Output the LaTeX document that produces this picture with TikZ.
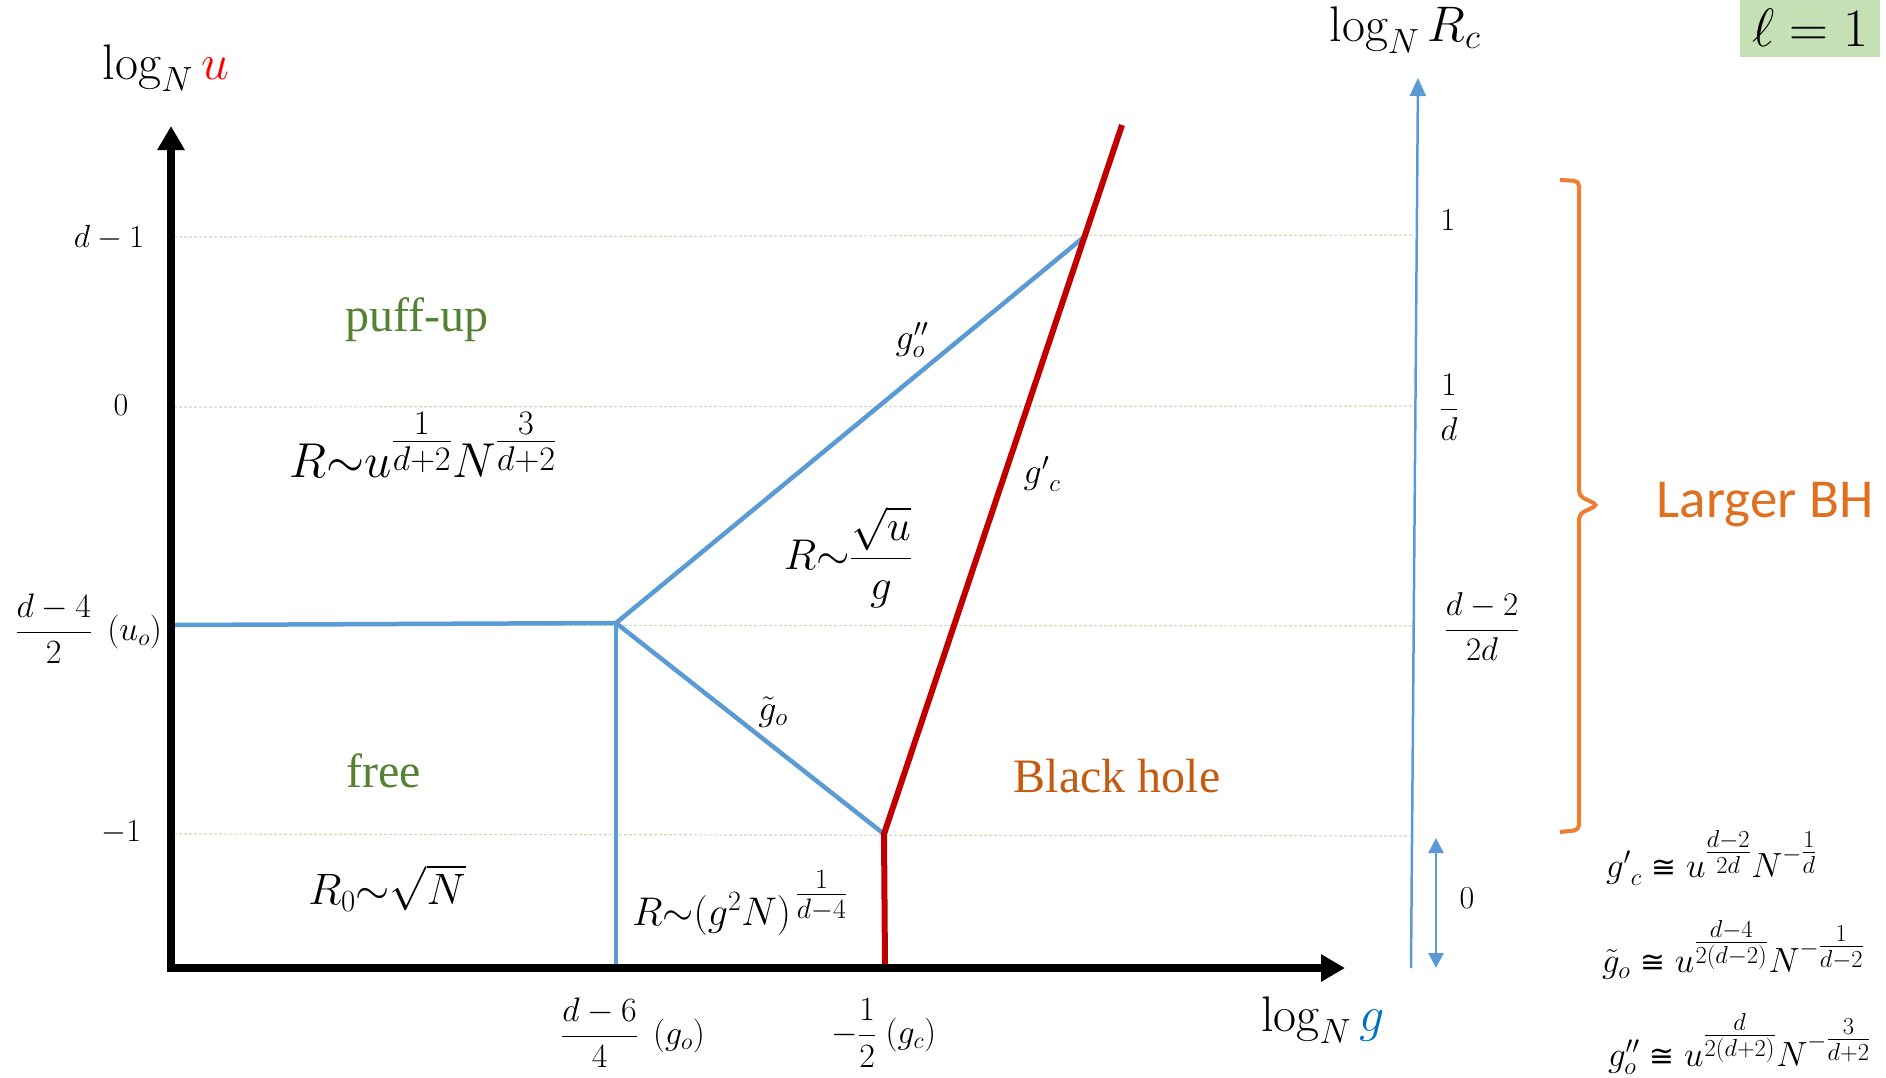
\RequirePackage{fix-cm}
\documentclass[tikz,border=0pt]{standalone}
\usepackage{amsmath}
\usepackage{fontspec}
\newfontfamily\serifB{Liberation Serif}
\newfontfamily\calib{Carlito}
\newfontfamily\dvsans{DejaVu Sans}
\usetikzlibrary{arrows.meta}
\definecolor{lineblue}{HTML}{5B9BD5}
\definecolor{linered}{HTML}{C00000}
\definecolor{gridgreen}{HTML}{C5E0B4}
\definecolor{textgreen}{HTML}{548235}
\definecolor{bhorange}{HTML}{C55A11}
\definecolor{brorange}{HTML}{ED7D31}
\definecolor{lbhorange}{HTML}{E07020}
\definecolor{boxgreen}{HTML}{C5E0B4}
\definecolor{gblue}{HTML}{0070C0}
\newcommand{\fs}[1]{\fontsize{#1}{#1}\selectfont}
\newcommand{\mycong}{\mathrel{\hbox{\dvsans\fontsize{0.85em}{0.85em}\selectfont ≅}}}
\begin{document}
\begin{tikzpicture}[x=1pt,y=-1pt,
  every node/.style={inner sep=0pt, outer sep=0pt},
  mainaxis/.style={line width=8pt, -{Triangle[width=26pt,length=24pt]}},
  raxis/.style={line width=2.5pt, lineblue, -{Triangle[width=16pt,length=18pt]}},
  dblarrow/.style={line width=2.5pt, lineblue, {Triangle[width=15pt,length=15pt]}-{Triangle[width=15pt,length=15pt]}},
  bluel/.style={line width=4.5pt, lineblue},
  redl/.style={line width=6pt, linered, line join=round},
  gridl/.style={line width=1.2pt, gridgreen, dash pattern=on 3pt off 2pt},
  bracket/.style={line width=4pt, brorange, rounded corners=5pt},
  ticklbl/.style={font=\fs{34}},
  region/.style={font=\serifB\fs{48}, textgreen},
  curvelbl/.style={font=\fs{36}},
  sidef/.style={font=\fs{35}, anchor=west}]
\useasboundingbox (0,0) rectangle (1886,1077);

% coordinates
\coordinate (O) at (171,968);
\coordinate (Ytop) at (171,126);
\coordinate (Ybot) at (171,972);
\coordinate (Xend) at (1345,968);
\coordinate (Xstart) at (167,968);
\coordinate (U) at (174,625);
\coordinate (A) at (616,623);
\coordinate (G) at (616,968);
\coordinate (B) at (1084,237);
\coordinate (C) at (884,834);
\coordinate (D) at (885,968);
\coordinate (E) at (1122,125);
\coordinate (Rb) at (1411,968);
\coordinate (Rt) at (1418,78);
\coordinate (DA1) at (1436,838);
\coordinate (DA2) at (1436,968);
\coordinate (G1a) at (174,237);  \coordinate (G1b) at (1413,235);
\coordinate (G2a) at (174,407);  \coordinate (G2b) at (1413,406);
\coordinate (G3a) at (174,625);  \coordinate (G3b) at (1413,626);
\coordinate (G4a) at (174,834);  \coordinate (G4b) at (1413,836);

% grid lines
\draw[gridl] (G1a) -- (G1b);
\draw[gridl] (G2a) -- (G2b);
\draw[gridl] (G3a) -- (G3b);
\draw[gridl] (G4a) -- (G4b);

% phase boundaries
\draw[bluel] (U) -- (A);
\draw[bluel] (A) -- (G);
\draw[bluel] (A) -- (B);
\draw[bluel] (A) -- (C);
\draw[redl] (D) -- (C) -- (E);

% axes
\draw[mainaxis] (Ybot) -- (Ytop);
\draw[mainaxis] (Xstart) -- (Xend);
\draw[raxis] (Rb) -- (Rt);
\draw[dblarrow] (DA1) -- (DA2);

% bracket
\draw[bracket] (1560,180) -- (1579,181) -- (1579,496) -- (1598,505) -- (1579,514) -- (1579,830) -- (1560,832);

% axis titles
\node[font=\fs{50}] (yt) at (166,68) {$\log_N {\color{red}u}$};
\node[font=\fs{50}] (xt) at (1323,1020) {$\log_N {\color{gblue}g}$};
\node[font=\fs{50}] (rt) at (1405,30) {$\log_N R_c$};
\node[fill=boxgreen, minimum width=140pt, minimum height=57pt, font=\fs{54}] (ell) at (1810,28) {$\ell=1$};

% y tick labels
\node[font=\fs{32}, anchor=east] (t1) at (144,238) {$d-1$};
\node[font=\fs{32}] (t2) at (121,405) {$0$};
\node[ticklbl, anchor=east] (t3) at (162,629) {$\dfrac{d-4}{2}\;\,(u_o)$};
\node[font=\fs{32}, anchor=east] (t4) at (141,833) {$-1$};

% x tick labels
\node[ticklbl] (x1) at (633,1033) {$\dfrac{d-6}{4}\;\,(g_o)$};
\node[ticklbl] (x2) at (884,1033) {$-\dfrac{1}{2}\;(g_c)$};

% right axis labels
\node[font=\fs{32}] (r1) at (1448,220) {$1$};
\node[font=\fs{33}] (r2) at (1449,407) {$\dfrac{1}{d}$};
\node[font=\fs{33}] (r3) at (1482,627) {$\dfrac{d-2}{2d}$};
\node[font=\fs{32}] (r4) at (1467,898) {$0$};

% regions
\node[region] (puff) at (417,320) {puff-up};
\node[region] (free) at (384,771) {free};
\node[font=\serifB\fs{48}, bhorange] (bh) at (1117,776) {Black hole};
\node[font=\calib\fs{55}, lbhorange] (lbh) at (1765,505) {Larger BH};

% formulas
\node[font=\fs{49}] (f1) at (423,445) {$R{\sim}u^{\tfrac{1}{d+2}}N^{\tfrac{3}{d+2}}$};
\node[font=\fs{44}] (f2) at (387,888) {$R_0{\sim}\sqrt{N}$};
\node[font=\fs{43}] (f3) at (848,557) {$R{\sim}\dfrac{\sqrt{u}}{g}$};
\node[font=\fs{40}] (f4) at (740,903) {$R{\sim}(g^2N)^{\mkern3mu\tfrac{1}{d-4}}$};

% curve labels
\node[curvelbl] (c1) at (912,340) {$g''_o$};
\node[curvelbl] (c2) at (1042,474) {${g'}_c$};
\node[curvelbl] (c3) at (773,712) {$\tilde g_o$};

% side formulas
\node[sidef] (s1) at (1606,858) {${g'}_c\mycong u^{\tfrac{d-2}{2d}}N^{-\tfrac{1}{d}}$};
\node[sidef] (s2) at (1602,950) {$\tilde g_o\mycong u^{\tfrac{d-4}{2(d-2)}}N^{-\tfrac{1}{d-2}}$};
\node[sidef] (s3) at (1608,1044) {$g''_o\mycong u^{\tfrac{d}{2(d+2)}}N^{-\tfrac{3}{d+2}}$};
\end{tikzpicture}
\end{document}
